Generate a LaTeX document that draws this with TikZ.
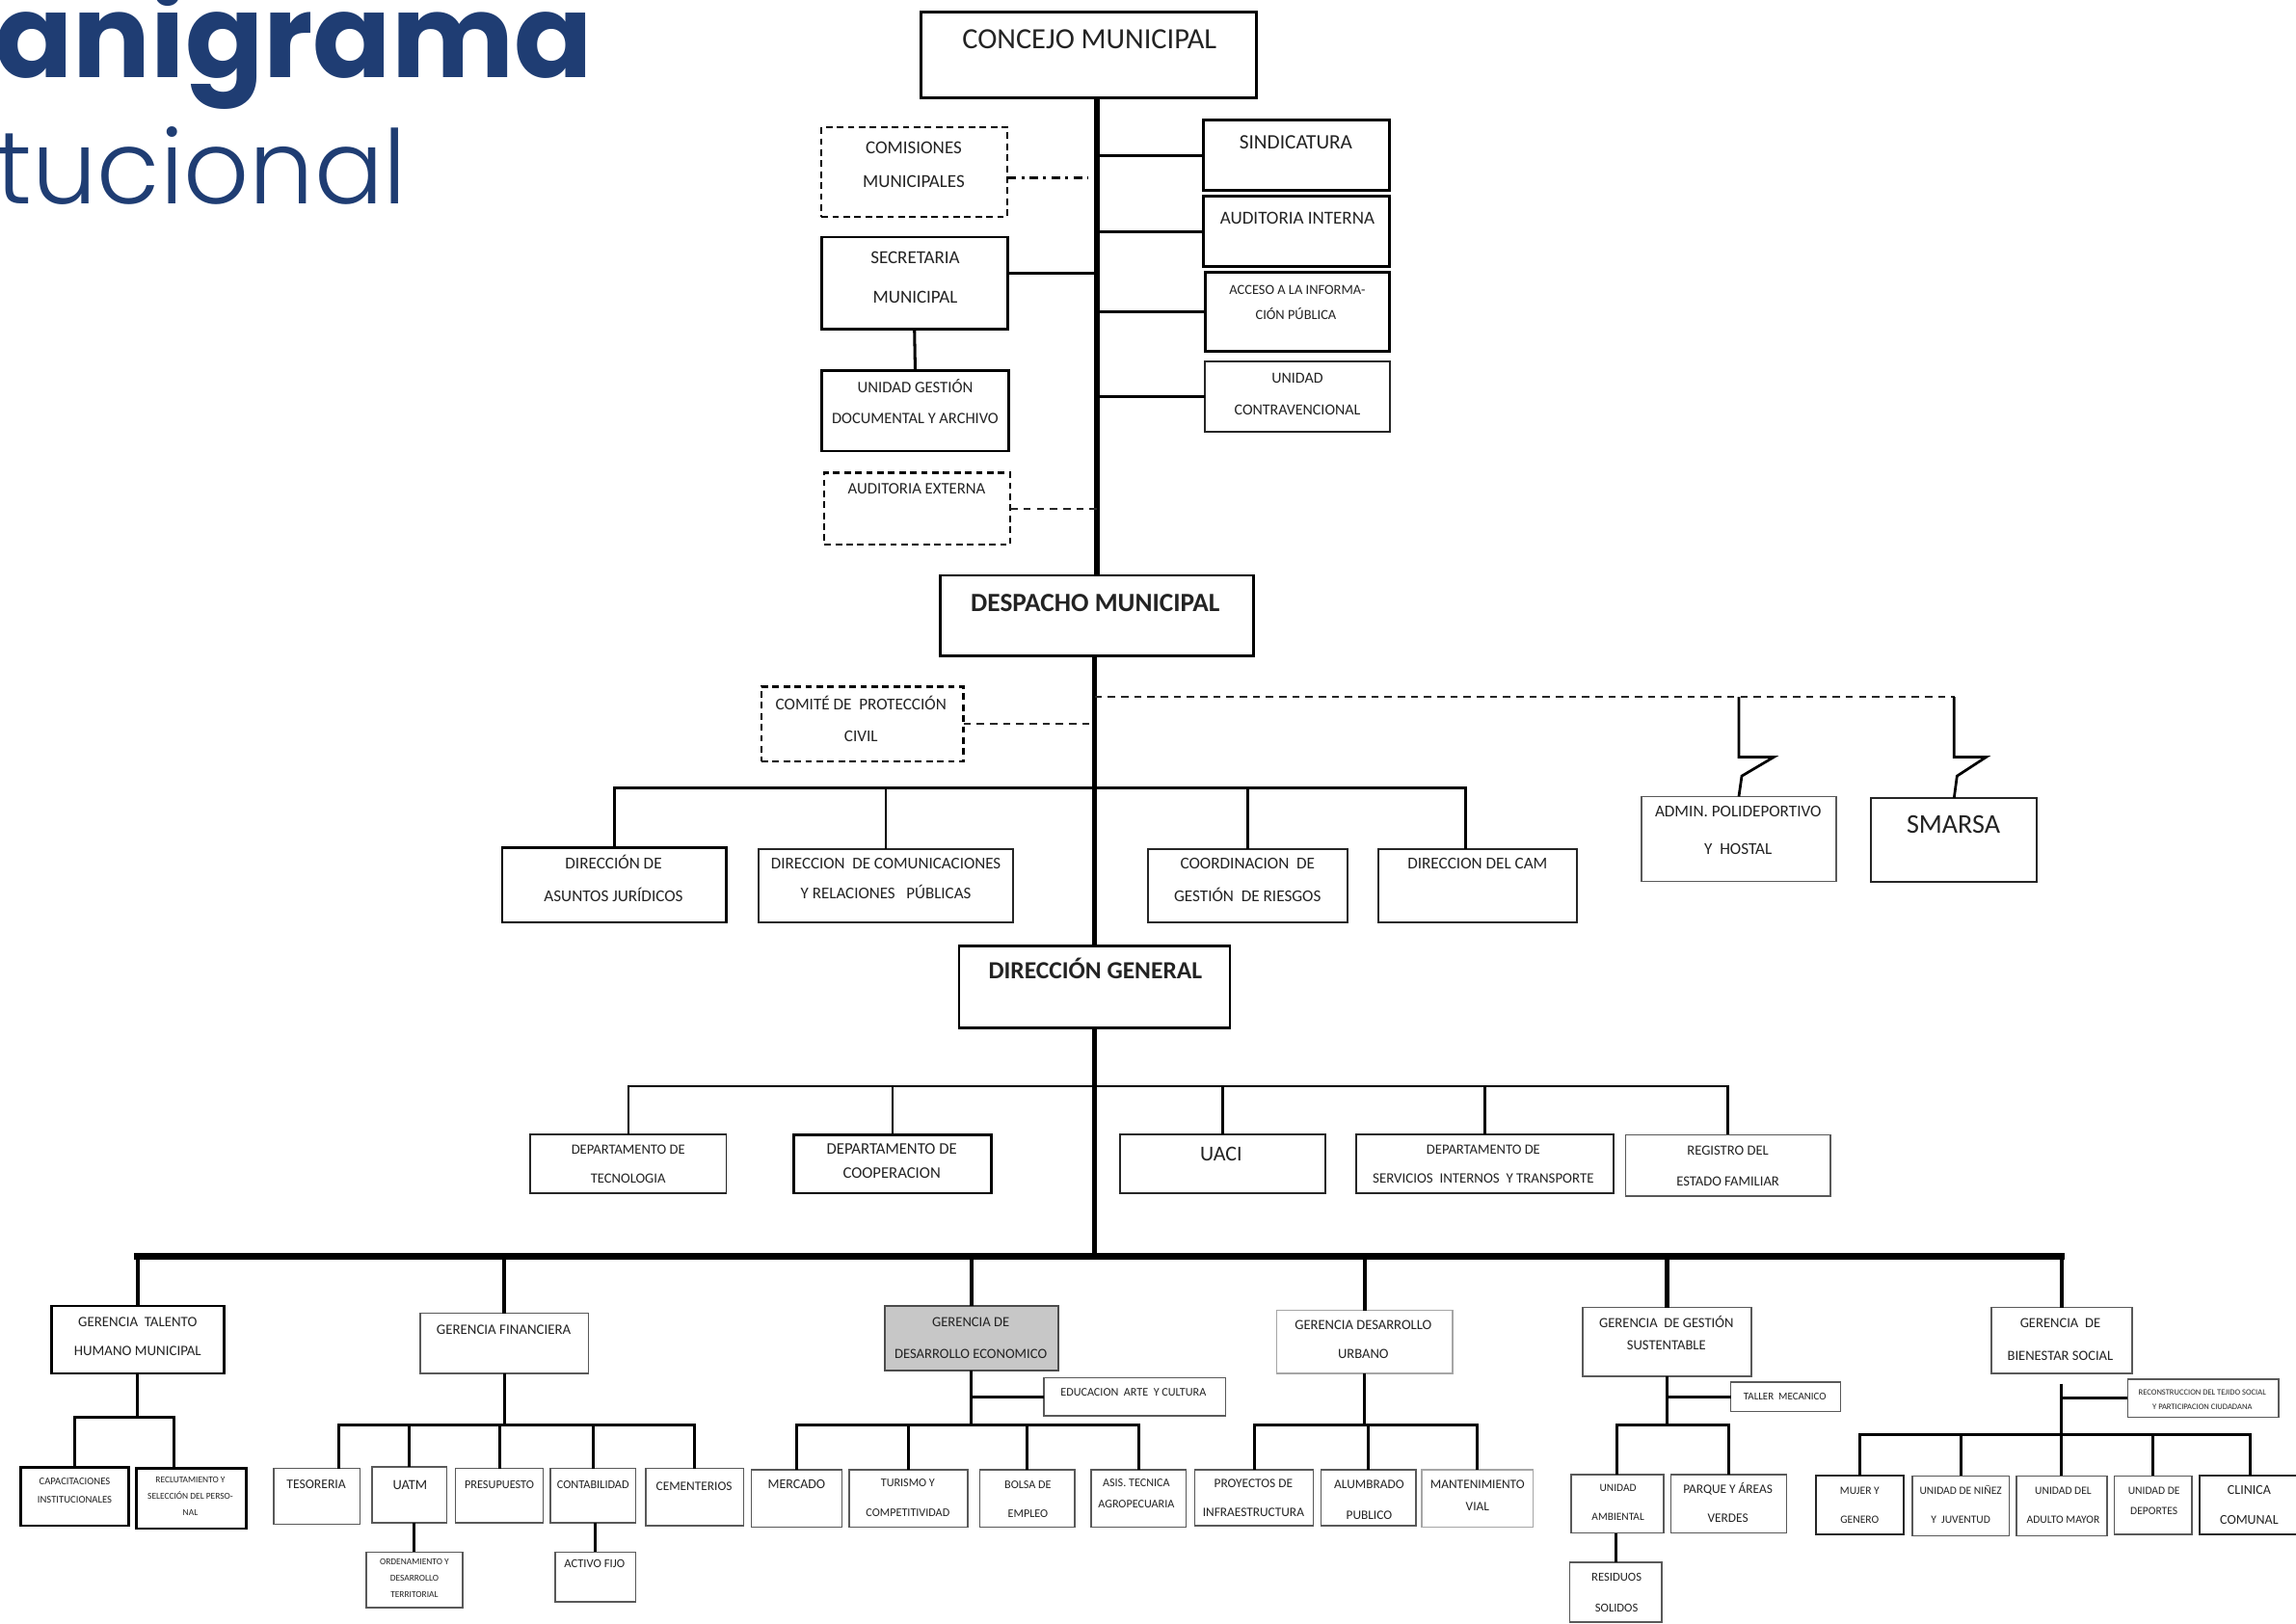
\documentclass[tikz,border=0pt]{standalone}
\usepackage{fontspec}
\setmainfont{Carlito}
\newfontfamily\titlefont{Poppins}
\newfontfamily\titlelight{Poppins Light}
\definecolor{titleblue}{RGB}{31,61,115}
\definecolor{ink}{RGB}{35,35,35}
\newcount\tcnt
\tikzset{
  box/.style={draw=black, line width=1.8pt, inner sep=0pt, outer sep=0pt},
  mbox/.style={draw=black!85, line width=1.3pt, inner sep=0pt, outer sep=0pt},
  tbox/.style={draw=black!65, line width=1pt, inner sep=0pt, outer sep=0pt},
  lbox/.style={draw=black!35, line width=1pt, inner sep=0pt, outer sep=0pt},
  gbox/.style={draw=black!70, fill=black!22, line width=1.4pt, inner sep=0pt, outer sep=0pt},
  dbox/.style={draw=black, line width=1.6pt, dash pattern=on 4.5pt off 3pt, inner sep=0pt, outer sep=0pt},
  txt/.style={inner sep=0pt, outer sep=0pt, text=ink},
  ln/.style={line width=2pt},
  thinln/.style={line width=1.6pt},
  spine/.style={line width=3.6pt},
  busln/.style={line width=4.6pt, line cap=rect},
  dropln/.style={line width=2.8pt},
  dashln/.style={line width=1.6pt, dash pattern=on 5pt off 4pt, draw=black!85},
  dashdotln/.style={line width=1.6pt, dash pattern=on 6pt off 3.5pt on 2pt off 3.5pt},
}
\newcommand\bx[6][box]{\node[#1, anchor=north west, minimum width={(#5)-(#3)}, minimum height={(#6)-(#4)}] (#2) at (#3,#4) {};}
\newcommand\tx[5][]{\global\advance\tcnt by 1\relax\node[txt, font={\fontsize{#4}{#4}\selectfont}, text height={0.64*#4pt}, text depth=0pt, #1] (t\the\tcnt) at (#2,#3) {#5};}
\begin{document}
\begin{tikzpicture}[x=1pt,y=-1pt]
\useasboundingbox (0,0) rectangle (1568,1109);
\fill[white] (0,0) rectangle (1568,1109);

% title
\node[anchor=base west, inner sep=0pt, text=titleblue, font={\titlefont\fontsize{79}{79}\selectfont\bfseries}] (title1) at (-4,53) {anigrama};
\node[anchor=base west, inner sep=0pt, text=titleblue, font={\titlelight\fontsize{70}{70}\selectfont}] (title2) at (-3,139) {tucional};

% boxes
\bx{concejo}{629}{8}{858}{67}
\bx[dbox]{comis}{561}{87}{688}{148}
\bx{sind}{822}{82}{949}{130}
\bx{audi}{822}{134}{949}{182}
\bx{acceso}{823}{186}{949}{240}
\bx[mbox]{contra}{823}{247}{949}{295}
\bx{secr}{561}{162}{688}{225}
\bx{ugd}{561}{253}{689}{308}
\bx[dbox]{aude}{563}{323}{690}{372}
\bx{despacho}{642}{393}{856}{448}
\bx[dbox]{comite}{520}{469}{658}{520}
\bx[tbox]{admin}{1121}{544}{1254}{602}
\bx[mbox]{smarsa}{1278}{545}{1391}{602}
\bx{jur}{343}{579}{496}{630}
\bx[mbox]{comu}{518}{580}{692}{630}
\bx[mbox]{coord}{784}{580}{920}{630}
\bx[mbox]{cam}{941}{580}{1077}{630}
\bx{dg}{655}{646}{840}{702}
\bx[mbox]{tec}{362}{775}{496}{815}
\bx{coop}{542}{775}{677}{815}
\bx[mbox]{uaci}{765}{775}{905}{815}
\bx[mbox]{serv}{926}{775}{1102}{815}
\bx[tbox]{reg}{1110}{775}{1250}{817}
\bx{tal}{35}{892}{153}{938}
\bx[tbox]{fin}{287}{897}{402}{938}
\bx[gbox]{eco}{604}{892}{723}{936}
\bx[lbox]{urb}{872}{895}{992}{938}
\bx[tbox]{sus}{1081}{893}{1196}{940}
\bx[tbox]{bien}{1360}{893}{1456}{938}
\bx{cap}{14}{1002}{88}{1042}
\bx{rec}{93}{1003}{168}{1044}
\bx[tbox]{tes}{187}{1003}{246}{1041}
\bx[tbox]{uatm}{254}{1002}{305}{1040}
\bx[tbox]{pres}{311}{1003}{371}{1040}
\bx[tbox]{cont}{376}{1003}{434}{1040}
\bx[tbox]{cem}{441}{1003}{508}{1042}
\bx[tbox]{ord}{250}{1060}{316}{1098}
\bx[tbox]{act}{379}{1060}{434}{1094}
\bx[tbox]{edu}{713}{941}{837}{967}
\bx[tbox]{mer}{513}{1004}{575}{1043}
\bx[tbox]{tur}{580}{1004}{661}{1043}
\bx[tbox]{bol}{669}{1004}{734}{1043}
\bx[tbox]{asis}{745}{1004}{810}{1043}
\bx[tbox]{proy}{816}{1004}{897}{1042}
\bx[tbox]{alum}{902}{1004}{967}{1042}
\bx[lbox]{mant}{971}{1004}{1047}{1043}
\bx[tbox]{taller}{1182}{944}{1257}{964}
\bx[tbox]{uamb}{1073}{1007}{1136}{1047}
\bx[tbox]{parq}{1141}{1007}{1220}{1047}
\bx[tbox]{resid}{1072}{1067}{1135}{1108}
\bx[tbox]{recon}{1453}{942}{1556}{968}
\bx[mbox]{mujer}{1240}{1008}{1300}{1048}
\bx[tbox]{nin}{1306}{1008}{1372}{1049}
\bx[tbox]{adul}{1377}{1008}{1439}{1049}
\bx[tbox]{dep}{1444}{1008}{1497}{1048}
\bx[mbox]{clin}{1502}{1008}{1572}{1048}

% coordinates for bars
\coordinate (bar2) at (749,538);
\coordinate (bar3) at (748,742);
\coordinate (bus) at (748,858);
\coordinate (tb) at (94,968);
\coordinate (fb) at (344,973);
\coordinate (eb) at (664,973);
\coordinate (ub) at (932,973);
\coordinate (sb) at (1138,973);
\coordinate (bb) at (1408,980);
\coordinate (dl) at (1335,476);
\coordinate (camtop) at ([xshift=-8pt]cam.north);
\coordinate (rectop) at ([xshift=-12pt]rec.north);
\coordinate (testop) at ([xshift=15pt]tes.north);
\coordinate (bientop) at ([yshift=-7pt]bien.south);
\coordinate (secrc) at ([yshift=7pt]secr.east);
\coordinate (comisc) at ([yshift=-4pt]comis.east);

% upper connectors
\draw[spine] (despacho.north |- concejo.south) -- (despacho.north);
\draw[ln] (sind.west) -- (sind.west -| despacho.north);
\draw[ln] (audi.west) -- (audi.west -| despacho.north);
\draw[ln] (acceso.west) -- (acceso.west -| despacho.north);
\draw[ln] (contra.west) -- (contra.west -| despacho.north);
\draw[ln] (secrc) -- (secrc -| despacho.north);
\draw[ln] (secr.south) -- (ugd.north);
\draw[dashdotln, shorten >=6pt] (comisc) -- (comisc -| despacho.north);
\draw[dashln] (aude.east) -- (aude.east -| despacho.north);

% middle connectors
\draw[spine] (dg.north |- despacho.south) -- (dg.north);
\draw[dashln] (comite.east) -- (comite.east -| dg.north);
\draw[dashln] (dg.north |- dl) -- (dl);
\draw[ln, line width=1.8pt] (admin.north |- dl) -- ++(0,41) -- ++(24,0) -- ++(-22,13) -- (admin.north);
\draw[ln, line width=1.8pt] (smarsa.north |- dl) -- ++(0,41) -- ++(22,0) -- ++(-20,13) -- (smarsa.north);
\draw[thinln] (jur.north) |- (camtop |- bar2) -- (camtop);
\draw[thinln] (comu.north) -- (comu.north |- bar2);
\draw[thinln] (coord.north) -- (coord.north |- bar2);

% direccion general
\draw[thinln] (tec.north) |- (reg.north |- bar3) -- (reg.north);
\foreach \n in {coop,uaci,serv} \draw[thinln] (\n.north) -- (\n.north |- bar3);
\draw[spine] (dg.south) -- (dg.south |- bus);
\draw[busln] (tal.north |- bus) -- (bien.north |- bus);
\foreach \n in {tal,fin,eco,urb,sus,bien} \draw[dropln] (\n.north) -- (\n.north |- bus);

% talento
\draw[ln] (tal.south) -- (tal.south |- tb);
\draw[ln] (cap.north) |- (rectop |- tb) -- (rectop);
% financiera
\draw[ln] (fin.south) -- (fin.south |- fb);
\draw[ln] (testop) |- (cem.north |- fb) -- (cem.north);
\foreach \n in {uatm,pres,cont} \draw[ln] (\n.north) -- (\n.north |- fb);
\draw[ln] (ord.north |- uatm.south) -- (ord.north);
\draw[ln] (act.north |- cont.south) -- (act.north);
% economico
\draw[ln] (eco.south) -- (eco.south |- eb);
\draw[ln] (edu.west) -- (edu.west -| eco.south);
\draw[ln] (mer.north) |- (asis.north |- eb) -- (asis.north);
\foreach \n in {tur,bol} \draw[ln] (\n.north) -- (\n.north |- eb);
% urbano
\draw[ln] (urb.south) -- (urb.south |- ub);
\draw[ln] (proy.north) |- (mant.north |- ub) -- (mant.north);
\draw[ln] (alum.north) -- (alum.north |- ub);
% sustentable
\draw[ln] (sus.south) -- (sus.south |- sb);
\draw[ln] (taller.west) -- (taller.west -| sus.south);
\draw[ln] (uamb.north) |- (parq.north |- sb) -- (parq.north);
\draw[ln] (resid.north |- uamb.south) -- (resid.north);
% bienestar
\draw[ln] (bientop) -- (bientop |- bb);
\draw[ln] (recon.west) -- (recon.west -| bientop);
\draw[ln] (mujer.north) |- (clin.north |- bb) -- (clin.north);
\foreach \n in {nin,adul,dep} \draw[ln] (\n.north) -- (\n.north |- bb);

% texts
\tx{744}{27}{20}{CONCEJO MUNICIPAL}
\tx{624}{101}{12.5}{COMISIONES}
\tx{624}{124}{12.5}{MUNICIPALES}
\tx{885}{97}{14}{SINDICATURA}
\tx{886}{149}{12.5}{AUDITORIA INTERNA}
\tx{886}{198}{9.5}{ACCESO A LA INFORMA-}
\tx{885}{215}{9.5}{CIÓN PÚBLICA}
\tx{886}{258}{10.5}{UNIDAD}
\tx{886}{280}{10.5}{CONTRAVENCIONAL}
\tx{625}{176}{12.5}{SECRETARIA}
\tx{625}{203}{12.5}{MUNICIPAL}
\tx{625}{265}{11}{UNIDAD GESTIÓN}
\tx{625}{286}{10.8}{DOCUMENTAL Y ARCHIVO}
\tx{626}{334}{11}{AUDITORIA EXTERNA}
\tx{748}{412}{18}{\bfseries DESPACHO MUNICIPAL}
\tx{588}{481}{11.3}{COMITÉ DE~~PROTECCIÓN}
\tx{588}{503}{11.3}{CIVIL}
\tx{1187}{554}{11.3}{ADMIN. POLIDEPORTIVO}
\tx{1187}{580}{11.3}{Y~~HOSTAL}
\tx{1334}{563}{18.5}{SMARSA}
\tx{419}{590}{11.3}{DIRECCIÓN DE}
\tx{419}{612}{11.3}{ASUNTOS JURÍDICOS}
\tx{605}{590}{11.2}{DIRECCION~~DE COMUNICACIONES}
\tx{605}{610}{11.2}{Y RELACIONES~~~PÚBLICAS}
\tx{852}{590}{11.3}{COORDINACION~~DE}
\tx{852}{612}{11.3}{GESTIÓN~~DE RIESGOS}
\tx{1009}{590}{11.3}{DIRECCION DEL CAM}
\tx{748}{663}{16.8}{\bfseries DIRECCIÓN GENERAL}
\tx{429}{785}{9.6}{DEPARTAMENTO DE}
\tx{429}{805}{9.6}{TECNOLOGIA}
\tx{609}{785}{11}{DEPARTAMENTO DE}
\tx{609}{801}{11}{COOPERACION}
\tx{834}{788}{14.5}{UACI}
\tx{1013}{785}{9.6}{DEPARTAMENTO DE}
\tx{1013}{805}{9.8}{SERVICIOS~~INTERNOS~~Y TRANSPORTE}
\tx{1180}{786}{9.6}{REGISTRO DEL}
\tx{1180}{807}{9.6}{ESTADO FAMILIAR}
\tx{94}{903}{9.8}{GERENCIA~~TALENTO}
\tx{94}{923}{9.8}{HUMANO MUNICIPAL}
\tx{344}{908}{9.8}{GERENCIA FINANCIERA}
\tx{663}{903}{9.6}{GERENCIA DE}
\tx{663}{925}{9.6}{DESARROLLO ECONOMICO}
\tx{931}{905}{9.6}{GERENCIA DESARROLLO}
\tx{931}{925}{9.6}{URBANO}
\tx{1138}{904}{9.6}{GERENCIA~~DE GESTIÓN}
\tx{1138}{919}{9.6}{SUSTENTABLE}
\tx{1407}{904}{9.6}{GERENCIA~~DE}
\tx{1407}{926}{9.6}{BIENESTAR SOCIAL}
\tx{51}{1012}{7}{CAPACITACIONES}
\tx{51}{1024}{7}{INSTITUCIONALES}
\tx{130}{1011}{6.2}{RECLUTAMIENTO Y}
\tx{130}{1022}{6.2}{SELECCIÓN DEL PERSO-}
\tx{130}{1033}{6.2}{NAL}
\tx{216}{1014}{9}{TESORERIA}
\tx{280}{1014}{9.5}{UATM}
\tx{341}{1014}{8.1}{PRESUPUESTO}
\tx{405}{1014}{8.1}{CONTABILIDAD}
\tx{474}{1015}{8.8}{CEMENTERIOS}
\tx{283}{1067}{6.2}{ORDENAMIENTO Y}
\tx{283}{1078}{6.2}{DESARROLLO}
\tx{283}{1089}{6.2}{TERRITORIAL}
\tx{406}{1068}{8.3}{ACTIVO FIJO}
\tx{774}{951}{8}{EDUCACION~~ARTE~~Y CULTURA}
\tx{544}{1014}{9.2}{MERCADO}
\tx{620}{1013}{8}{TURISMO Y}
\tx{620}{1033}{8}{COMPETITIVIDAD}
\tx{702}{1014}{8}{BOLSA DE}
\tx{702}{1034}{8}{EMPLEO}
\tx{776}{1013}{8}{ASIS. TECNICA}
\tx{776}{1027}{8}{AGROPECUARIA}
\tx{856}{1013}{8.8}{PROYECTOS DE}
\tx{856}{1033}{8.8}{INFRAESTRUCTURA}
\tx{935}{1014}{8.8}{ALUMBRADO}
\tx{935}{1035}{8.8}{PUBLICO}
\tx{1009}{1014}{8.8}{MANTENIMIENTO}
\tx{1009}{1029}{8.8}{VIAL}
\tx{1219}{954}{7.2}{TALLER~~MECANICO}
\tx{1105}{1016}{7.5}{UNIDAD}
\tx{1105}{1036}{7.5}{AMBIENTAL}
\tx{1180}{1017}{8.8}{PARQUE Y ÁREAS}
\tx{1180}{1037}{8.8}{VERDES}
\tx{1104}{1077}{8.3}{RESIDUOS}
\tx{1104}{1098}{8.3}{SOLIDOS}
\tx{1504}{951}{5.6}{RECONSTRUCCION DEL TEJIDO SOCIAL}
\tx{1504}{961}{5.6}{Y PARTICIPACION CIUDADANA}
\tx{1270}{1018}{7.6}{MUJER Y}
\tx{1270}{1038}{7.6}{GENERO}
\tx{1339}{1018}{7.6}{UNIDAD DE NIÑEZ}
\tx{1339}{1038}{7.6}{Y~~JUVENTUD}
\tx{1409}{1018}{7.6}{UNIDAD DEL}
\tx{1409}{1038}{7.6}{ADULTO MAYOR}
\tx{1471}{1018}{7.6}{UNIDAD DE}
\tx{1471}{1032}{7.6}{DEPORTES}
\tx{1536}{1018}{9.2}{CLINICA}
\tx{1536}{1038}{9.2}{COMUNAL}
\end{tikzpicture}
\end{document}
